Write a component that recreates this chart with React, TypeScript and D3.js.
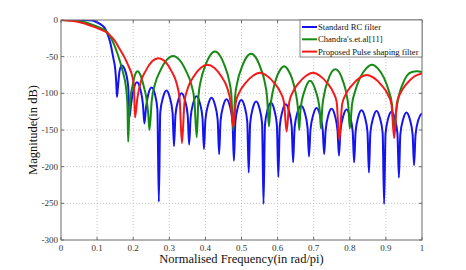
import React from "react";
import * as d3 from "d3";

const xTicks = [0, 0.1, 0.2, 0.3, 0.4, 0.5, 0.6, 0.7, 0.8, 0.9, 1];
const yTicks = [0, -50, -100, -150, -200, -250, -300];
const seriesNames = ["Standard RC filter", "Chandra's.et.al[11]", "Proposed Pulse shaping filter"];
const seriesColors = ["#1414f0", "#158a15", "#f51a1a"];

const standardRC: [number, number][] = [
  [0, 0], [0.05, 0], [0.08, -0.5], [0.095, -2], [0.11, -6], [0.12, -10], [0.127, -17], [0.136, -30],
  [0.145, -52], [0.15, -66], [0.153, -85], [0.155, -105],
  [0.158, -90], [0.162, -70], [0.168, -62], [0.177, -68], [0.186, -90], [0.19, -132],
  [0.194, -115], [0.2015, -94], [0.2105, -85], [0.2195, -94], [0.227, -115], [0.231, -141],
  [0.235, -122], [0.242, -101], [0.251, -92], [0.26, -101], [0.267, -122], [0.271, -248],
  [0.275, -126], [0.283, -105], [0.292, -96], [0.301, -105], [0.309, -126], [0.313, -172],
  [0.317, -130], [0.325, -109], [0.334, -100], [0.343, -109], [0.351, -130], [0.355, -170],
  [0.359, -134], [0.3665, -113], [0.3755, -104], [0.3845, -113], [0.392, -134], [0.396, -176],
  [0.4, -136], [0.408, -115], [0.417, -106], [0.426, -115], [0.434, -136], [0.438, -183],
  [0.442, -138], [0.4495, -117], [0.4585, -108], [0.4675, -117], [0.475, -138], [0.479, -192],
  [0.483, -139], [0.4905, -118], [0.4995, -109], [0.5085, -118], [0.516, -139], [0.52, -208],
  [0.524, -141], [0.5315, -120], [0.5405, -111], [0.5495, -120], [0.557, -141], [0.561, -251],
  [0.565, -143], [0.5725, -122], [0.5815, -113], [0.5905, -122], [0.598, -143], [0.602, -214],
  [0.606, -145], [0.6135, -124], [0.6225, -115], [0.6315, -124], [0.639, -145], [0.643, -194],
  [0.647, -147], [0.655, -126], [0.665, -117], [0.675, -126], [0.683, -147], [0.687, -186],
  [0.691, -150], [0.699, -129], [0.708, -120], [0.717, -129], [0.725, -150], [0.729, -183],
  [0.733, -151], [0.7405, -130], [0.7495, -121], [0.7585, -130], [0.766, -151], [0.77, -185],
  [0.774, -152], [0.782, -131], [0.791, -122], [0.8, -131], [0.808, -152], [0.812, -194],
  [0.816, -153], [0.8235, -132], [0.8325, -123], [0.8415, -132], [0.849, -153], [0.853, -208],
  [0.857, -154], [0.865, -133], [0.874, -124], [0.883, -133], [0.891, -154], [0.895, -251],
  [0.899, -155], [0.9065, -134], [0.9155, -125], [0.9245, -134], [0.932, -155], [0.936, -215],
  [0.94, -156], [0.948, -135], [0.957, -126], [0.966, -135], [0.974, -156], [0.978, -198],
  [0.982, -157], [0.99, -136], [1.0, -127],
];

const chandra: [number, number][] = [
  [0, 0], [0.03, -0.7], [0.06, -2.5], [0.09, -7], [0.11, -11], [0.127, -16], [0.14, -26], [0.15, -37],
  [0.163, -56], [0.172, -72], [0.18, -92], [0.184, -115], [0.186, -166],
  [0.189, -130], [0.192, -108], [0.198, -90], [0.205, -75], [0.212, -70], [0.22, -75], [0.229, -90], [0.237, -108], [0.242, -130], [0.245, -150],
  [0.2516, -109], [0.2607, -87], [0.2751, -69], [0.2935, -54], [0.3105, -49], [0.3275, -54], [0.3459, -69], [0.3603, -87], [0.3694, -109], [0.376, -160],
  [0.381, -103], [0.3881, -81], [0.3992, -63], [0.4134, -48], [0.4265, -43], [0.4396, -48], [0.4538, -63], [0.4649, -81], [0.472, -103], [0.477, -150],
  [0.482, -106], [0.4889, -84], [0.4998, -66], [0.5136, -51], [0.5265, -46], [0.5394, -51], [0.5532, -66], [0.5641, -84], [0.571, -106], [0.576, -145],
  [0.5802, -118], [0.5861, -99], [0.5953, -81], [0.6071, -68], [0.618, -63], [0.6289, -68], [0.6407, -81], [0.6499, -99], [0.6558, -118], [0.66, -150],
  [0.663, -125], [0.6672, -110], [0.6738, -98], [0.6822, -87], [0.69, -83], [0.6978, -87], [0.7062, -98], [0.7128, -110], [0.717, -125], [0.72, -148],
  [0.724, -118], [0.7296, -100], [0.7384, -84], [0.7496, -71], [0.76, -67], [0.7704, -71], [0.7816, -84], [0.7904, -100], [0.796, -118], [0.8, -148],
  [0.8062, -115], [0.8148, -97], [0.8283, -79], [0.8455, -66], [0.8615, -61], [0.8775, -66], [0.8947, -79], [0.9082, -97], [0.9168, -115], [0.923, -152],
  [0.9283, -125], [0.9356, -104], [0.946, -88], [0.958, -76], [0.972, -71], [0.986, -70], [1.0, -71],
];

const proposed: [number, number][] = [
  [0, 0], [0.03, -1.2], [0.06, -4], [0.09, -9], [0.11, -13], [0.127, -17], [0.14, -23], [0.15, -29],
  [0.163, -40], [0.177, -52], [0.188, -64], [0.197, -76], [0.202, -90], [0.205, -133],
  [0.2115, -107], [0.2206, -85], [0.2349, -69], [0.2531, -56], [0.27, -52], [0.2869, -56], [0.3051, -69], [0.3194, -85], [0.3285, -107], [0.335, -168],
  [0.3421, -112], [0.352, -92], [0.3677, -77], [0.3875, -65], [0.406, -61], [0.4245, -65], [0.4443, -77], [0.46, -92], [0.4699, -112], [0.477, -146],
  [0.4844, -112], [0.4948, -98], [0.511, -86], [0.5318, -76], [0.551, -72], [0.5702, -76], [0.591, -86], [0.6072, -98], [0.6176, -112], [0.625, -152],
  [0.6323, -112], [0.6425, -98], [0.6586, -86], [0.679, -76], [0.698, -72], [0.717, -76], [0.7374, -86], [0.7535, -98], [0.7637, -112], [0.771, -164],
  [0.7786, -115], [0.7892, -101], [0.806, -89], [0.8272, -79], [0.847, -75], [0.8668, -79], [0.888, -89], [0.9048, -101], [0.9154, -115], [0.923, -161],
  [0.9305, -113], [0.941, -99], [0.9575, -87], [0.9785, -77], [1.0, -73],
];

const allSeries = [standardRC, chandra, proposed];

export default function App() {
  const left = 61, right = 422, top = 20, bottom = 240;
  const x = d3.scaleLinear().domain([0, 1]).range([left, right]);
  const y = d3.scaleLinear().domain([-300, 0]).range([bottom, top]);
  const line = d3
    .line<[number, number]>()
    .x((d) => x(d[0]))
    .y((d) => y(d[1]))
    .curve(d3.curveMonotoneX);
  const font = "'Liberation Serif', 'Times New Roman', serif";
  const legX = 300, legY = 20, legW = 122, legH = 37;

  return (
    <svg width={466} height={270} style={{ position: "absolute", left: 0, top: 0, background: "#fff" }}>
      <rect x={0} y={0} width={466} height={270} fill="#fff" />
      <defs>
        <clipPath id="plotclip">
          <rect x={left} y={top} width={right - left} height={bottom - top} />
        </clipPath>
      </defs>
      {xTicks.slice(1, -1).map((t) => (
        <line key={"gx" + t} x1={x(t)} x2={x(t)} y1={top} y2={bottom} stroke="#b8b8b8" strokeWidth={0.8} strokeDasharray="1,2" />
      ))}
      {yTicks.slice(1, -1).map((t) => (
        <line key={"gy" + t} x1={left} x2={right} y1={y(t)} y2={y(t)} stroke="#b8b8b8" strokeWidth={0.8} strokeDasharray="1,2" />
      ))}
      <g clipPath="url(#plotclip)">
        {allSeries.map((s, i) => (
          <path key={i} d={line(s) || ""} fill="none" stroke={seriesColors[i]} strokeWidth={2} strokeLinejoin="round" />
        ))}
      </g>
      <rect x={left} y={top} width={right - left} height={bottom - top} fill="none" stroke="#6a6a6a" strokeWidth={1} />
      {xTicks.map((t) => (
        <g key={"tx" + t}>
          <line x1={x(t)} x2={x(t)} y1={bottom} y2={bottom - 3} stroke="#6a6a6a" />
          <line x1={x(t)} x2={x(t)} y1={top} y2={top + 3} stroke="#6a6a6a" />
          <text x={x(t)} y={bottom + 11} textAnchor="middle" fontSize={9} fontFamily={font} fill="#333">
            {t}
          </text>
        </g>
      ))}
      {yTicks.map((t) => (
        <g key={"ty" + t}>
          <line x1={left} x2={left + 3} y1={y(t)} y2={y(t)} stroke="#6a6a6a" />
          <line x1={right} x2={right - 3} y1={y(t)} y2={y(t)} stroke="#6a6a6a" />
          <text x={left - 3} y={y(t) + 3} textAnchor="end" fontSize={9} fontFamily={font} fill="#333">
            {t}
          </text>
        </g>
      ))}
      <text x={(left + right) / 2} y={263} textAnchor="middle" fontSize={12.5} fontFamily={font} fill="#111">
        Normalised Frequency(in rad/pi)
      </text>
      <text
        transform={`translate(37, ${(top + bottom) / 2}) rotate(-90)`}
        textAnchor="middle"
        fontSize={12.5}
        fontFamily={font}
        fill="#111"
      >
        Magnitude(in dB)
      </text>
      <rect x={legX} y={legY} width={legW} height={legH} fill="#fff" stroke="#6a6a6a" strokeWidth={0.8} />
      {seriesNames.map((n, i) => (
        <g key={n}>
          <line x1={legX + 2} x2={legX + 17} y1={legY + 7 + i * 12.3} y2={legY + 7 + i * 12.3} stroke={seriesColors[i]} strokeWidth={2} />
          <text x={legX + 18} y={legY + 10 + i * 12.3} fontSize={8.6} fontFamily={font} fill="#111">
            {n}
          </text>
        </g>
      ))}
    </svg>
  );
}
